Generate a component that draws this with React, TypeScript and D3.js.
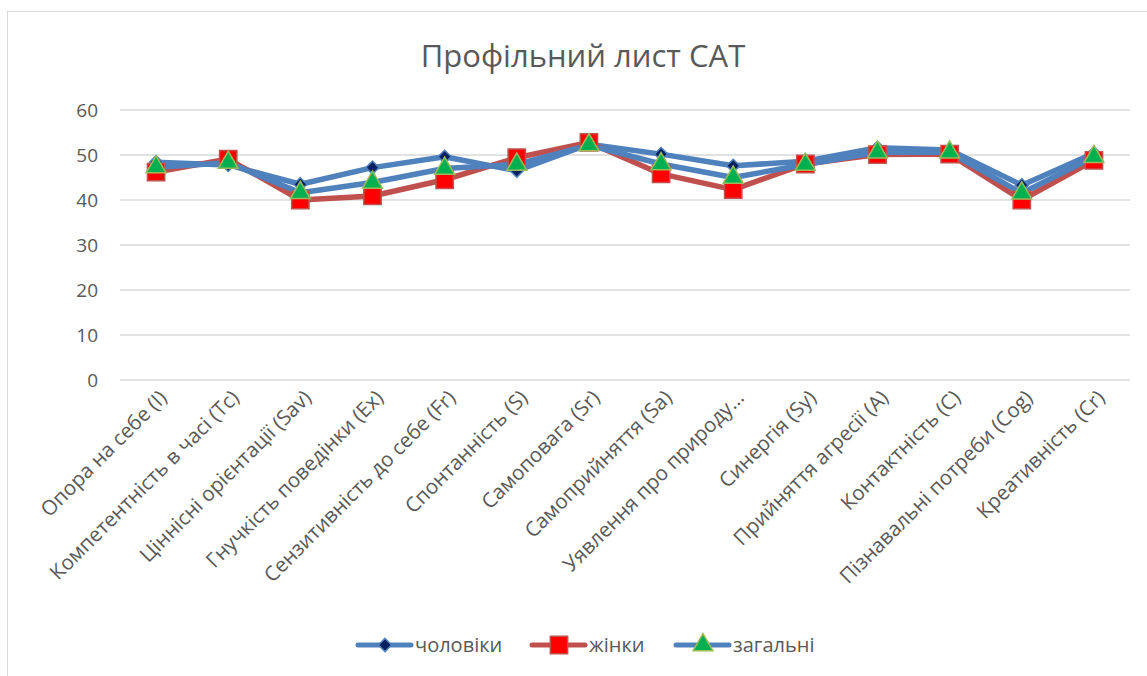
import React, { useEffect, useRef } from 'react'
import * as d3 from 'd3'

const categories = [
  'Опора на себе (I)',
  'Компетентність в часі (Tc)',
  'Ціннісні орієнтації (Sav)',
  'Гнучкість поведінки (Ex)',
  'Сензитивність до себе (Fr)',
  'Спонтанність (S)',
  'Самоповага (Sr)',
  'Самоприйняття (Sa)',
  'Уявлення про природу…',
  'Синергія (Sy)',
  'Прийняття агресії (A)',
  'Контактність (C)',
  'Пізнавальні потреби (Cog)',
  'Креативність (Cr)',
]

const men = [48.4, 47.8, 43.5, 47.2, 49.6, 46.5, 52.4, 50.2, 47.6, 48.6, 51.6, 51.1, 43.3, 50.4]
const women = [46.2, 49.1, 40, 40.9, 44.5, 49.4, 52.8, 45.8, 42.3, 48, 50.1, 50.2, 40, 48.8]
const total = [47.3, 48.3, 41.6, 43.9, 47, 47.9, 52.2, 48, 45, 47.9, 50.6, 50.6, 41.5, 49.6]

const yTicks = [0, 10, 20, 30, 40, 50, 60]
const legendNames = ['чоловіки', 'жінки', 'загальні']

const FONT = '"Open Sans", sans-serif'
const TEXT = '#595959'
const BLUE = '#4F81BD'
const RED = '#C0504D'

const App = () => {
  const ref = useRef(null)

  useEffect(() => {
    const width = 1147
    const height = 676
    const plot = { left: 120, right: 1130, top: 110, bottom: 380 }

    const svg = d3.select(ref.current).attr('width', width).attr('height', height)
    svg.selectAll('*').remove()

    // chart frame
    svg
      .append('rect')
      .attr('x', 7.5)
      .attr('y', 11.5)
      .attr('width', 1160)
      .attr('height', 700)
      .attr('fill', 'white')
      .attr('stroke', '#D9D9D9')

    svg
      .append('text')
      .attr('x', 583)
      .attr('y', 67)
      .attr('text-anchor', 'middle')
      .attr('font-family', FONT)
      .attr('font-size', 31)
      .attr('fill', TEXT)
      .text('Профільний лист САТ')

    const x = d3.scalePoint().domain(categories).range([plot.left, plot.right]).padding(0.5)
    const y = d3.scaleLinear().domain([0, 60]).range([plot.bottom, plot.top])

    // gridlines + y labels
    const yAxis = svg.append('g')
    yAxis
      .selectAll('line')
      .data(yTicks)
      .enter()
      .append('line')
      .attr('x1', plot.left)
      .attr('x2', plot.right)
      .attr('y1', (d) => y(d))
      .attr('y2', (d) => y(d))
      .attr('stroke', '#D9D9D9')
      .attr('stroke-width', 1.5)
    yAxis
      .selectAll('text')
      .data(yTicks)
      .enter()
      .append('text')
      .attr('x', 98)
      .attr('y', (d) => y(d))
      .attr('dy', '0.35em')
      .attr('text-anchor', 'end')
      .attr('font-family', FONT)
      .attr('font-size', 19)
      .attr('fill', TEXT)
      .text((d) => d)

    // x labels
    svg
      .append('g')
      .selectAll('text')
      .data(categories)
      .enter()
      .append('text')
      .attr('transform', (d) => `translate(${x(d) + 7},${plot.bottom + 14}) rotate(-45)`)
      .attr('text-anchor', 'end')
      .attr('dy', '0.35em')
      .attr('font-family', FONT)
      .attr('font-size', 20.5)
      .attr('fill', TEXT)
      .text((d) => d)

    const line = d3
      .line()
      .x((d, i) => x(categories[i]))
      .y((d) => y(d))

    const diamond = d3.symbol().type(d3.symbolDiamond2).size(110)
    const square = d3.symbol().type(d3.symbolSquare).size(300)
    const triangle = d3.symbol().type(d3.symbolTriangle).size(170)

    const series = [
      { values: men, color: BLUE, sym: diamond, fill: '#002060', stroke: BLUE },
      { values: women, color: RED, sym: square, fill: '#FF0000', stroke: RED },
      { values: total, color: BLUE, sym: triangle, fill: '#00B050', stroke: '#9BBB59' },
    ]

    series.forEach((s) => {
      svg
        .append('path')
        .datum(s.values)
        .attr('d', line)
        .attr('fill', 'none')
        .attr('stroke', s.color)
        .attr('stroke-width', 5.5)
        .attr('stroke-linejoin', 'round')
        .attr('stroke-linecap', 'round')
    })
    series.forEach((s) => {
      svg
        .append('g')
        .selectAll('path')
        .data(s.values)
        .enter()
        .append('path')
        .attr('d', s.sym)
        .attr('transform', (d, i) => `translate(${x(categories[i])},${y(d)})`)
        .attr('fill', s.fill)
        .attr('stroke', s.stroke)
        .attr('stroke-width', 1.5)
    })

    // legend
    const legendX = [358, 532, 676]
    const lg = svg.append('g')
    series.forEach((s, i) => {
      const g = lg.append('g').attr('transform', `translate(${legendX[i]},645)`)
      g.append('line')
        .attr('x1', 0)
        .attr('x2', 53)
        .attr('stroke', s.color)
        .attr('stroke-width', 5)
        .attr('stroke-linecap', 'round')
      g.append('path')
        .attr('d', s.sym)
        .attr('transform', 'translate(27,0)')
        .attr('fill', s.fill)
        .attr('stroke', s.stroke)
        .attr('stroke-width', 1.5)
      g.append('text')
        .attr('x', 57)
        .attr('dy', '0.35em')
        .attr('font-family', FONT)
        .attr('font-size', 20)
        .attr('fill', TEXT)
        .text(legendNames[i])
    })
  }, [])

  return (
    <div style={{ position: 'absolute', left: 0, top: 0 }}>
      <svg ref={ref} style={{ display: 'block' }}></svg>
    </div>
  )
}

export default App
